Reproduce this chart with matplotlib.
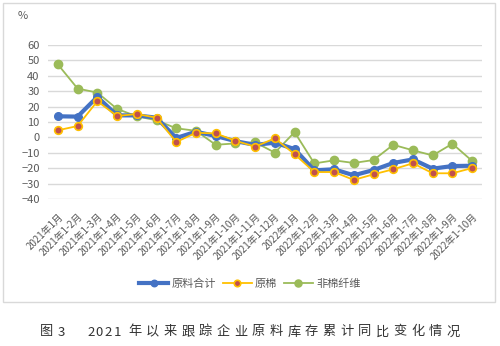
import matplotlib.pyplot as plt
from matplotlib.patches import Rectangle

plt.rcParams['font.family'] = ['Noto Sans CJK SC', 'DejaVu Sans']

months = ['2021年1月'] + [f'2021年1-{m}月' for m in range(2, 13)] + \
         ['2022年1月'] + [f'2022年1-{m}月' for m in range(2, 11)]

total = [13.7, 13.5, 26.3, 14.3, 14.3, 12.8, -0.4, 3.7, 0.9, -2.4, -4.9,
         -3.4, -7.6, -21.4, -20.7, -24.6, -21.2, -16.6, -14.3, -20.3, -18.6, -18.4]
cotton = [4.6, 7.4, 23.5, 13.9, 15.2, 12.8, -3.0, 3.0, 2.6, -2.2, -6.0,
          -0.6, -10.9, -22.5, -22.5, -27.6, -24.0, -20.7, -16.8, -23.3, -23.3, -19.9]
noncotton = [47.4, 31.7, 29.1, 18.5, 13.7, 11.1, 5.9, 4.3, -4.8, -3.9, -3.2,
             -9.9, 3.4, -16.9, -14.9, -16.6, -14.7, -4.8, -8.4, -11.7, -4.1, -15.3]

fig = plt.figure(figsize=(5.0, 3.46), dpi=100)
ax = fig.add_axes([48 / 500, 1 - 199 / 346, 434 / 500, 154 / 346])

x = range(len(months))
ax.plot(x, total, color='#4472C4', lw=3, marker='o', ms=5.5,
        mfc='#4472C4', mec='#4472C4', label='原料合计', zorder=3)
ax.plot(x, cotton, color='#FFC000', lw=1.3, marker='o', ms=5.5,
        mfc='#C0504D', mec='#FFC000', mew=1.2, label='原棉', zorder=4)
ax.plot(x, noncotton, color='#9BBB59', lw=1.3, marker='o', ms=6,
        mfc='#9BBB59', mec='#9BBB59', label='非棉纤维', zorder=2)

ax.set_xlim(-0.5, len(months) - 0.5)
ax.set_ylim(-40, 60)
ax.set_yticks(range(-40, 61, 10))
ax.grid(axis='y', color='#D9D9D9', lw=1)
ax.set_axisbelow(True)
for s in ax.spines.values():
    s.set_visible(False)
ax.tick_params(length=0, colors='#595959', labelsize=8)
ax.set_xticks(list(x))
ax.set_xticklabels(months, rotation=45, ha='right', rotation_mode='anchor',
                   fontsize=7, color='#595959')
ax.tick_params(axis='x', pad=9)
ax.tick_params(axis='y', pad=6)
ax.text(-0.07, 1.17, '%', transform=ax.transAxes, fontsize=8, color='#595959')

leg = fig.legend(loc='center', bbox_to_anchor=(0.5, 1 - 284 / 346), ncol=3,
                 frameon=False, fontsize=8, handlelength=2.6, columnspacing=0.6,
                 handletextpad=0.3, markerscale=0.85)
for t in leg.get_texts():
    t.set_color('#595959')

fig.patches.append(Rectangle((3 / 500, 1 - 302 / 346), 492 / 500, 299 / 346,
                             transform=fig.transFigure, fill=False,
                             ec='#D9D9D9', lw=1))

# caption, spaced out character by character
cap_y = 1 - 332 / 346
cap_style = dict(va='center', ha='left', fontsize=9.5, color='#333333')
fig.text(40 / 500, cap_y, '图', **cap_style)
fig.text(58 / 500, cap_y, '3', **cap_style)
for i, ch in enumerate('2021'):
    fig.text((87 + 8.8 * i) / 500, cap_y, ch, **cap_style)
caption = '年以来跟踪企业原料库存累计同比变化情况'
for i, ch in enumerate(caption):
    fig.text((128 + 17.7 * i) / 500, cap_y, ch, **cap_style)

fig.savefig('out.png', dpi=100)
